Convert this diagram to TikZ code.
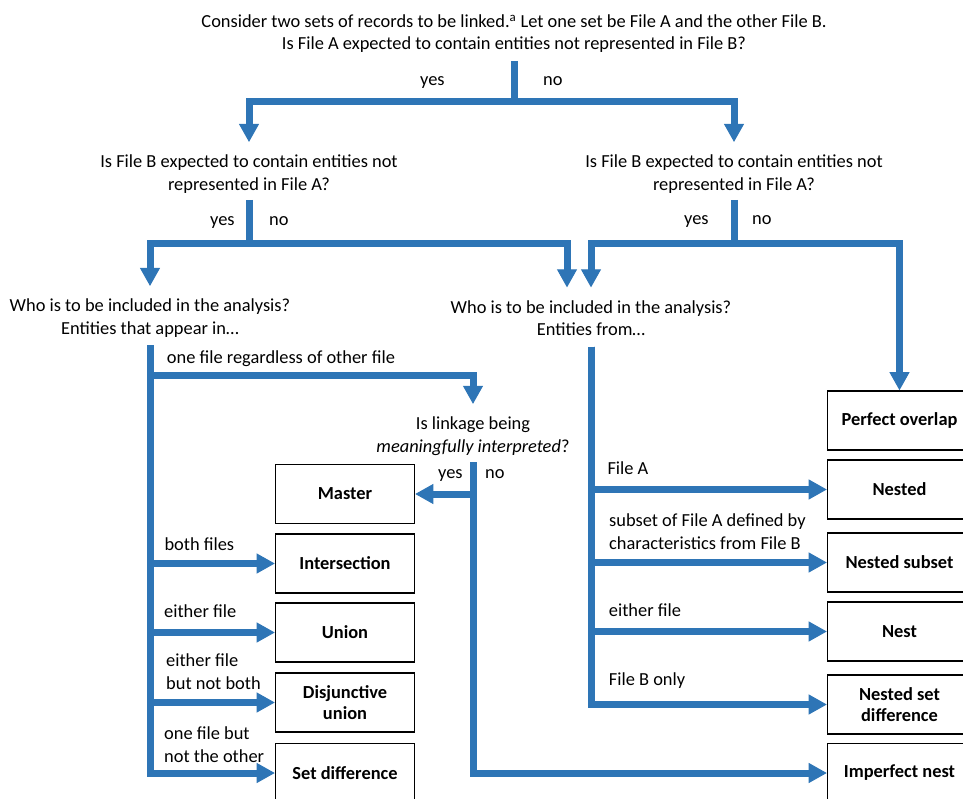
\documentclass[tikz,border=0pt]{standalone}
\usepackage{fontspec}
\setmainfont{Carlito}
\usetikzlibrary{arrows.meta}
\definecolor{flowblue}{RGB}{46,117,182}

\begin{document}
\begin{tikzpicture}[x=1pt,y=-1pt,
    ask/.style={font=\fontsize{18.4}{22.4}\selectfont,align=center,inner sep=0pt,outer ysep=13pt},
    lab/.style={font=\fontsize{18.4}{22.4}\selectfont,align=left,inner sep=0pt,anchor=base west},
    outcome/.style={font=\fontsize{18.4}{21.5}\selectfont\bfseries,draw,line width=1.6pt,align=center,
        minimum width=139pt,minimum height=59pt,inner sep=2pt},
    wide/.style={minimum width=144pt},
    line/.style={draw=flowblue,line width=7pt},
    flow/.style={line,-{Triangle[width=20pt,length=18pt,line width=1pt]}}]
  \useasboundingbox (0,0) rectangle (963,799);
  \clip (0,0) rectangle (963,799);

  % questions
  \node[ask] (start) at (514,33.6) {Consider two sets of records to be linked.\textsuperscript{a} Let one set be File A and the other File B.\\Is File A expected to contain entities not represented in File B?};
  \node[ask] (qbl) at (249,174) {Is File B expected to contain entities not\\represented in File A?};
  \node[ask] (qbr) at (734,174) {Is File B expected to contain entities not\\represented in File A?};
  \node[ask] (whoa) at (150,318) {Who is to be included in the analysis?\\Entities that appear in…};
  \node[ask] (whob) at (591,318) {Who is to be included in the analysis?\\Entities from…};
  \node[ask] (linkq) at (473,436) {Is linkage being\\\textit{meaningfully interpreted}?};

  % outcomes
  \node[outcome] (master) at (345,494) {Master};
  \node[outcome] (inter) at (345,563.5) {Intersection};
  \node[outcome] (union) at (345,632.5) {Union};
  \node[outcome] (disj) at (345,702.5) {Disjunctive\\union};
  \node[outcome] (setdiff) at (345,773) {Set difference};
  \node[outcome,wide] (perfect) at (899.5,420.5) {Perfect overlap};
  \node[outcome,wide] (nested) at (899.5,489.5) {Nested};
  \node[outcome,wide] (nsub) at (899.5,562.5) {Nested subset};
  \node[outcome,wide] (nest) at (899.5,631.5) {Nest};
  \node[outcome,wide] (nsdiff) at (899.5,704.5) {Nested set\\difference};
  \node[outcome,wide] (imperfect) at (899.5,773) {Imperfect nest};

  % junctions
  \coordinate (a0) at (514,61);
  \coordinate (a1) at (514,101.5);
  \coordinate (b0) at (249,200);
  \coordinate (b1) at (249,244);
  \coordinate (c0) at (734,200);
  \coordinate (c1) at (734,244);
  \coordinate (t0) at (150,345);
  \coordinate (t1) at (473,375.5);
  \coordinate (m0) at (591.5,346.5);
  \coordinate (l0) at (473,462);

  \draw[line] (a0) -- (a1);
  \draw[flow] (a1) -| (qbl.north);
  \draw[flow] (a1) -| (qbr.north);
  \draw[line] (b0) -- (b1);
  \draw[flow] (b1) -| (whoa.north);
  \draw[flow] (b1) -| ([xshift=-24pt]whob.north);
  \draw[line] (c0) -- (c1);
  \draw[flow] (c1) -| (whob.north);
  \draw[flow] (c1) -| (perfect.north);

  \draw[flow] (t0) |- (t1) -- (linkq.north);
  \foreach \b in {inter,union,disj,setdiff}
    \draw[flow] (t0) |- (\b.west);
  \foreach \b in {nested,nsub,nest,nsdiff}
    \draw[flow] (m0) |- (\b.west);
  \draw[flow] (l0) |- (master.east);
  \draw[flow] (l0) |- (imperfect.west);

  % answers
  \node[lab] (yes0) at (420,86) {yes};
  \node[lab] (no0) at (543,86) {no};
  \node[lab] (yes1) at (210,226) {yes};
  \node[lab] (no1) at (269,226) {no};
  \node[lab] (yes2) at (684,225) {yes};
  \node[lab] (no2) at (752,225) {no};
  \node[lab] (yes3) at (438,478) {yes};
  \node[lab] (no3) at (485,478) {no};
  \node[lab] (lone) at (166.7,363) {one file regardless of other file};
  \node[lab] (lboth) at (164.3,550) {both files};
  \node[lab] (leither) at (164,617) {either file};
  \node[lab] (lxor) at (166,689.3) {either file\\but not both};
  \node[lab] (ldiff) at (164,762.3) {one file but\\not the other};
  \node[lab] (lfa) at (607.3,474.3) {File A};
  \node[lab] (lsub) at (609,549) {subset of File A defined by\\characteristics from File B};
  \node[lab] (leither2) at (608.7,616.7) {either file};
  \node[lab] (lfb) at (608.7,685) {File B only};
\end{tikzpicture}
\end{document}
